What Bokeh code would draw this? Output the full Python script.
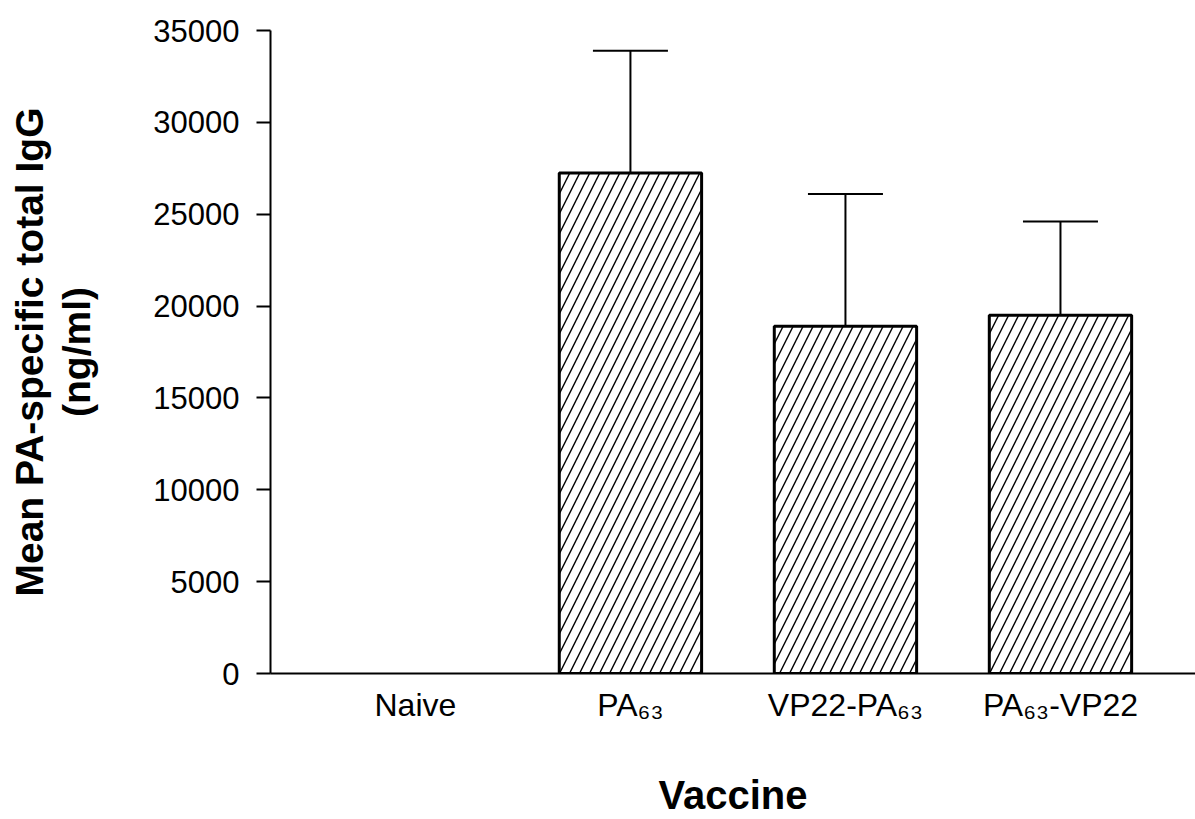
from bokeh.plotting import figure
from bokeh.models import ColumnDataSource, FixedTicker, Whisker, TeeHead, Range1d, NumeralTickFormatter
from bokeh.embed import file_html
from bokeh.resources import INLINE

# ---- data ----
categories = ["Naive", "PA\u2086\u2083", "VP22-PA\u2086\u2083", "PA\u2086\u2083-VP22"]
mean_igg = [0, 27250, 18900, 19500]
err_igg = [0, 6650, 7200, 5100]
y_ticks = [0, 5000, 10000, 15000, 20000, 25000, 30000, 35000]

xs = list(range(len(categories)))
FONT = "Liberation Sans"

bar_idx = [i for i, v in enumerate(mean_igg) if v > 0]
bar_src = ColumnDataSource(dict(
    x=[xs[i] for i in bar_idx],
    mean=[mean_igg[i] for i in bar_idx],
    upper=[mean_igg[i] + err_igg[i] for i in bar_idx],
))

p = figure(width=1195, height=819, output_backend="svg", toolbar_location=None,
           x_range=Range1d(-0.674, 3.628), y_range=Range1d(0, 35000),
           min_border_left=270, min_border_right=0, min_border_top=30, min_border_bottom=144)
p.outline_line_color = None
p.xgrid.grid_line_color = None
p.ygrid.grid_line_color = None

p.vbar(x="x", top="mean", bottom=0, width=0.662, source=bar_src,
       fill_color="white", line_color="black", line_width=3,
       hatch_pattern="/", hatch_color="black", hatch_weight=1.4, hatch_scale=20)

wh = Whisker(source=bar_src, base="x", upper="upper", lower="mean", dimension="height",
             line_color="black", line_width=2,
             upper_head=TeeHead(size=75, line_width=2, line_color="black"), lower_head=None)
p.add_layout(wh)

# x axis
xa = p.xaxis[0]
xa.ticker = FixedTicker(ticks=xs)
xa.major_label_overrides = {x: c for x, c in zip(xs, categories)}
xa.major_tick_in = 0
xa.major_tick_out = 0
xa.minor_tick_line_color = None
xa.axis_line_width = 2
xa.major_label_text_font = FONT
xa.major_label_text_font_size = "32px"
xa.major_label_text_color = "black"
xa.major_label_standoff = 13
xa.axis_label = "Vaccine"
xa.axis_label_text_font = FONT
xa.axis_label_text_font_style = "bold"
xa.axis_label_text_font_size = "40px"
xa.axis_label_text_color = "black"
xa.axis_label_standoff = 47

# y axis
ya = p.yaxis[0]
ya.ticker = FixedTicker(ticks=y_ticks)
ya.formatter = NumeralTickFormatter(format="0")
ya.major_tick_in = 0
ya.major_tick_out = 14
ya.major_tick_line_width = 2
ya.minor_tick_line_color = None
ya.axis_line_width = 2
ya.major_label_text_font = FONT
ya.major_label_text_font_size = "31px"
ya.major_label_text_color = "black"
ya.major_label_standoff = 17
ya.axis_label = "Mean PA-specific total IgG\n(ng/ml)"
ya.axis_label_text_font = FONT
ya.axis_label_text_font_style = "bold"
ya.axis_label_text_font_size = "39px"
ya.axis_label_text_line_height = 1.1
ya.axis_label_text_color = "black"
ya.axis_label_standoff = 52

open("out.html", "w").write(file_html(p, INLINE))
